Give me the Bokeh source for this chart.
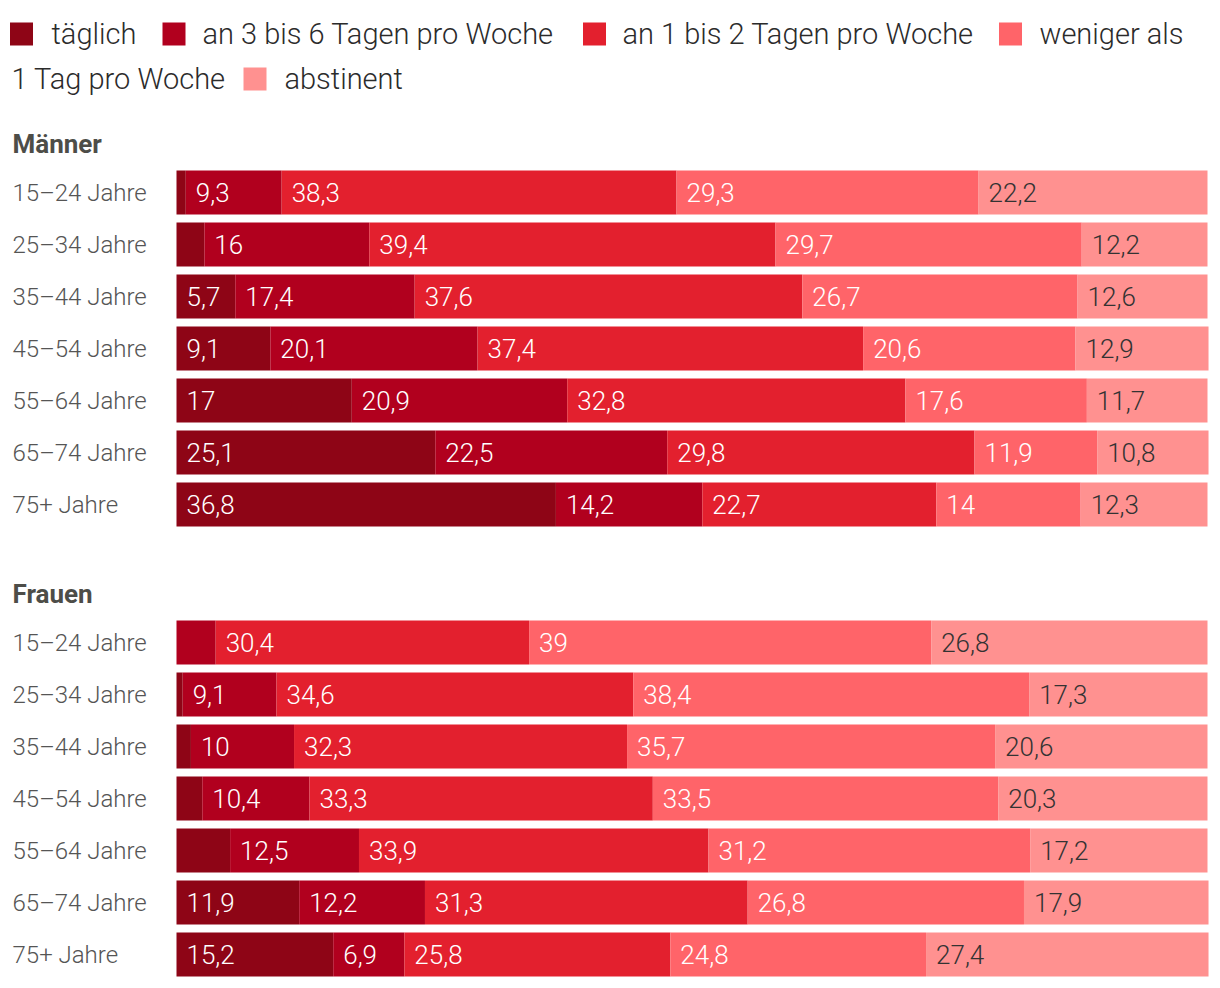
from bokeh.plotting import figure
from bokeh.models import Range1d, ColumnDataSource
from bokeh.core.properties import value
from bokeh.embed import file_html
from bokeh.resources import INLINE

# ---------------- data ----------------
ages = ["15–24 Jahre", "25–34 Jahre", "35–44 Jahre", "45–54 Jahre",
        "55–64 Jahre", "65–74 Jahre", "75+ Jahre"]
categories = ["täglich", "an 3 bis 6 Tagen pro Woche", "an 1 bis 2 Tagen pro Woche",
              "weniger als 1 Tag pro Woche", "abstinent"]
groups = ["Männer", "Frauen"]

men_taeglich = [0.9, 2.7, 5.7, 9.1, 17, 25.1, 36.8]
men_3_6 = [9.3, 16, 17.4, 20.1, 20.9, 22.5, 14.2]
men_1_2 = [38.3, 39.4, 37.6, 37.4, 32.8, 29.8, 22.7]
men_weniger = [29.3, 29.7, 26.7, 20.6, 17.6, 11.9, 14]
men_abstinent = [22.2, 12.2, 12.6, 12.9, 11.7, 10.8, 12.3]

women_taeglich = [0, 0.6, 1.4, 2.5, 5.2, 11.9, 15.2]
women_3_6 = [3.8, 9.1, 10, 10.4, 12.5, 12.2, 6.9]
women_1_2 = [30.4, 34.6, 32.3, 33.3, 33.9, 31.3, 25.8]
women_weniger = [39, 38.4, 35.7, 33.5, 31.2, 26.8, 24.8]
women_abstinent = [26.8, 17.3, 20.6, 20.3, 17.2, 17.9, 27.4]

colors = ["#8e0516", "#b1001e", "#e3202e", "#ff6469", "#ff9190"]
label_colors = ["white", "white", "white", "white", "#333333"]

series = {
    "Männer": [men_taeglich, men_3_6, men_1_2, men_weniger, men_abstinent],
    "Frauen": [women_taeglich, women_3_6, women_1_2, women_weniger, women_abstinent],
}

# ---------------- layout ----------------
W, H = 1212, 980
LEFT_PX = 176          # canvas px where 0 % starts
PX_PER = 10.31         # px per percent
FONT = value("'Roboto Light', Roboto")
FONT_BOLD = value("Roboto")

p = figure(width=W, height=H, output_backend="svg", toolbar_location=None,
           x_axis_type=None, y_axis_type=None,
           x_range=Range1d(-LEFT_PX / PX_PER, (W - LEFT_PX) / PX_PER),
           y_range=Range1d(H, 0), min_border=0)
p.extra_x_ranges = {"px": Range1d(0, W)}
p.outline_line_color = None
p.grid.visible = False
p.background_fill_color = "white"
p.border_fill_color = "white"

ROW_STEP = 52
BAR_H = 44
group_first_row = {"Männer": 192, "Frauen": 642}
group_heading = {"Männer": 143, "Frauen": 593}


def fmt(v):
    return f"{v:g}".replace(".", ",")


for g in groups:
    ys = [group_first_row[g] + ROW_STEP * i for i in range(len(ages))]
    cum = [0.0] * len(ages)
    for ci, vals in enumerate(series[g]):
        left = cum[:]
        right = [l + v for l, v in zip(left, vals)]
        cum = right
        src = ColumnDataSource(dict(y=ys, left=left, right=right))
        p.hbar(y="y", left="left", right="right", height=BAR_H, source=src,
               fill_color=colors[ci], line_color=None)
        lab = [(l, y, fmt(v)) for l, y, v in zip(left, ys, vals) if v >= 5.5]
        if lab:
            p.text(x=[a[0] for a in lab], y=[a[1] for a in lab], text=[a[2] for a in lab],
                   x_offset=10, text_baseline="middle", text_align="left",
                   text_font=FONT, text_font_size="26px", text_color=label_colors[ci])
    # row labels
    p.text(x=[12] * len(ages), y=ys, text=ages, x_range_name="px",
           text_baseline="middle", text_align="left", text_font=FONT,
           text_font_size="24px", text_color="#555555")
    # heading
    p.text(x=[12], y=[group_heading[g]], text=[g], x_range_name="px",
           text_baseline="middle", text_align="left", text_font=FONT_BOLD,
           text_font_size="26px", text_font_style="bold", text_color="#4d4d48")

# ---------------- legend (manual, wraps onto two lines) ----------------
sq_x = [21, 173.5, 594, 1010, 254.5]
sq_y = [33.5, 33.5, 33.5, 33.5, 78.5]
p.rect(x=sq_x, y=sq_y, width=23, height=23, x_range_name="px",
       fill_color=colors, line_color=None)

w4 = categories[3].split(" ")
leg_text = [categories[0], categories[1], categories[2], " ".join(w4[:2]),
            " ".join(w4[2:]), categories[4]]
leg_x = [51, 202, 622, 1039, 11, 284]
leg_y = [33, 33, 33, 33, 78, 78]
p.text(x=leg_x, y=leg_y, text=leg_text, x_range_name="px",
       text_baseline="middle", text_align="left", text_font=FONT,
       text_font_size="29px", text_color="#2b2b2b")

open("out.html", "w").write(file_html(p, INLINE))
